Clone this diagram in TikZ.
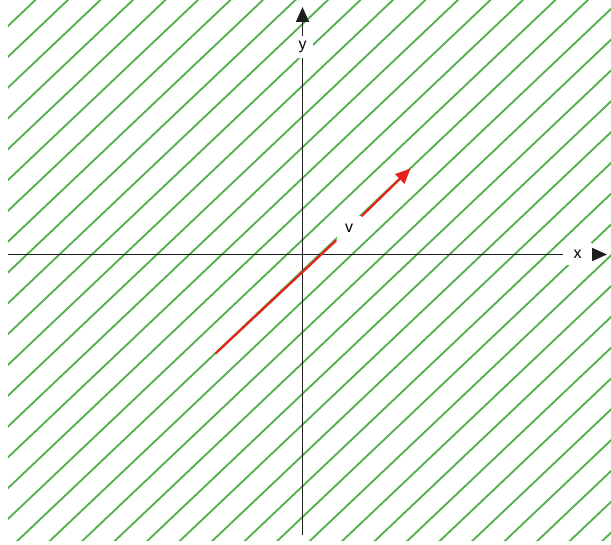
\documentclass[tikz,border=0pt]{standalone}
\usepackage{fontspec}
\setmainfont{Liberation Sans}
\usetikzlibrary{arrows.meta}
\definecolor{hatchgreen}{RGB}{80,176,72}
\definecolor{vecred}{RGB}{232,34,24}
\definecolor{axisgray}{RGB}{30,30,30}
\tikzset{
  hatch/.style={draw=hatchgreen, line width=1.8pt},
  axisline/.style={draw=axisgray, line width=1.7pt},
  axistip/.style={-{Triangle[length=15pt,width=13pt]}},
  vecline/.style={draw=vecred, line width=2.2pt},
  vectip/.style={-{Triangle[length=15pt,width=13pt]}},
  lab/.style={fill=white, inner sep=0pt, font=\fontsize{16}{18}\selectfont},
}
\begin{document}
\begin{tikzpicture}[x=1pt,y=-1pt]
\useasboundingbox (0,0) rectangle (611,545);
\fill[white] (0,0) rectangle (611,545);
\begin{scope}
\clip (8,0) rectangle (611,540);
\foreach \k in {-1,...,37}{
  \draw[hatch] ({33.3+32.5*\k+20},{2-20*0.948}) -- ++(-720,{720*0.948});
}
\end{scope}
% axes
\coordinate (xl) at (8,254.5);
\coordinate (xr) at (607,254.5);
\coordinate (yb) at (302.5,535);
\coordinate (yt) at (302.5,7);
\node[lab, minimum width=29pt, minimum height=22pt] (xlab) at (577.5,254.5) {x};
\node[lab, minimum width=20pt, minimum height=22pt] (ylab) at (302.5,47) {y};
\draw[axisline] (xl) -- (xlab);
\draw[axisline, axistip, fill=axisgray] (xlab) -- (xr);
\draw[axisline] (yb) -- (ylab);
\draw[axisline, axistip, fill=axisgray] (ylab) -- (yt);
% vector
\coordinate (va) at (215.5,353.5);
\coordinate (vb) at (410.5,168.5);
\node[lab, minimum width=25pt, minimum height=24pt] (vlab) at (349,228.5) {v};
\draw[vecline] (va) -- (vlab);
\draw[vecline, vectip, fill=vecred] (vlab) -- (vb);
\end{tikzpicture}
\end{document}
